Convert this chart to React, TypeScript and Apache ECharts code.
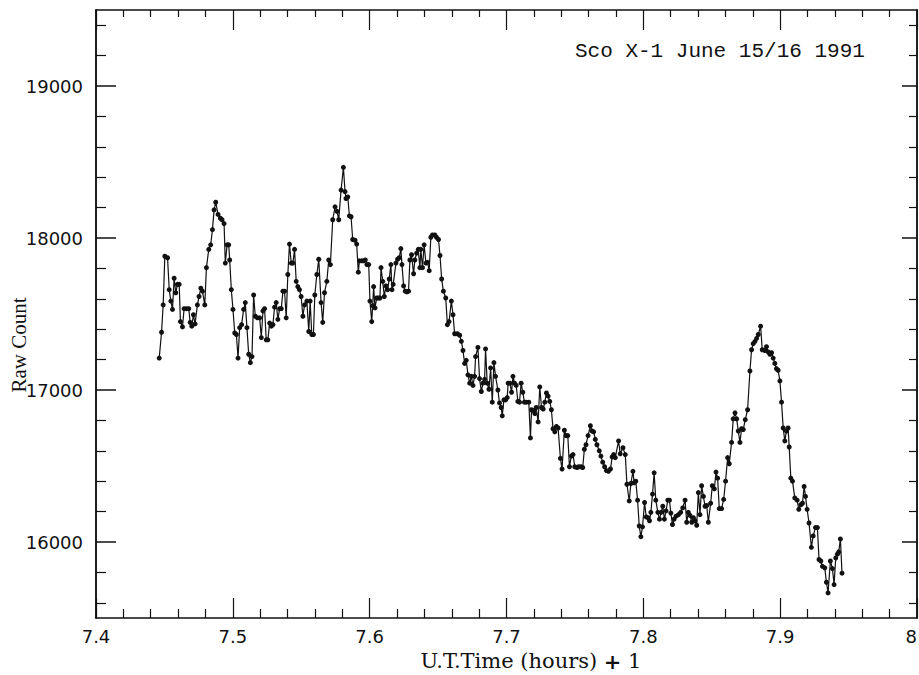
import React, { useEffect, useRef } from "react";
import * as echarts from "echarts";

const titleText = "Sco X-1 June 15/16 1991";
const yAxisTitle = "Raw Count";
const xAxisTitle = "U.T.Time (hours) {b|+} 1";

const yMajorTicks = [16000, 17000, 18000, 19000];
const yMinorTicks = [
  15600, 15800, 16200, 16400, 16600, 16800, 17200, 17400, 17600, 17800,
  18200, 18400, 18600, 18800, 19200, 19400,
];

const times = [
  7.4462, 7.4479, 7.4491, 7.4503, 7.4523, 7.4535, 7.4547, 7.4559, 7.4571, 7.4583,
  7.4595, 7.4608, 7.4617, 7.4632, 7.4644, 7.4661, 7.4678, 7.4688, 7.47, 7.4712,
  7.4724, 7.4741, 7.4753, 7.4766, 7.4778, 7.4795, 7.4807, 7.4824, 7.4838, 7.4851,
  7.4863, 7.4875, 7.4892, 7.4909, 7.4921, 7.4936, 7.4945, 7.4958, 7.497, 7.4977,
  7.4989, 7.5001, 7.5014, 7.5026, 7.5038, 7.505, 7.5064, 7.5079, 7.5091, 7.5103,
  7.5116, 7.5128, 7.514, 7.5152, 7.5164, 7.5179, 7.5196, 7.5208, 7.522, 7.5232,
  7.5244, 7.5256, 7.5269, 7.5281, 7.5293, 7.5305, 7.5317, 7.5329, 7.5342, 7.5354,
  7.5366, 7.5378, 7.539, 7.5402, 7.5414, 7.5427, 7.5439, 7.5451, 7.5463, 7.5475,
  7.5487, 7.5499, 7.5512, 7.5524, 7.5541, 7.5555, 7.5565, 7.5577, 7.5589, 7.5599,
  7.5614, 7.5628, 7.5645, 7.5657, 7.567, 7.5687, 7.5701,
  7.5713, 7.573, 7.5747, 7.5762, 7.5774, 7.5791, 7.5808, 7.582, 7.5827, 7.584,
  7.5852, 7.5864, 7.5876, 7.5893, 7.5905, 7.5917, 7.5925, 7.5942, 7.5956, 7.5968,
  7.598, 7.5993, 7.6002, 7.6015, 7.6022, 7.6029, 7.6039, 7.6051, 7.6063, 7.6075,
  7.6083, 7.6095, 7.6107, 7.6119, 7.6131, 7.6143, 7.6155, 7.6163, 7.6172, 7.6192,
  7.6204, 7.6216, 7.6228, 7.6236, 7.6248, 7.626, 7.6272, 7.6284, 7.6294, 7.6306,
  7.6321, 7.633, 7.6343, 7.6355, 7.6367, 7.6374, 7.6386, 7.6398, 7.6411, 7.6423,
  7.6435, 7.6447, 7.6459, 7.6476, 7.6488, 7.6503,
  7.6514, 7.6526, 7.6539, 7.6556, 7.6568, 7.658, 7.6597, 7.6609, 7.6621, 7.6641,
  7.6658, 7.667, 7.6682, 7.6694, 7.6706, 7.6718, 7.6731, 7.6743, 7.6755, 7.6767,
  7.6774, 7.6791, 7.6803, 7.6816, 7.6828, 7.684, 7.6847, 7.6859, 7.6872, 7.6884,
  7.6896, 7.6908, 7.692, 7.6937, 7.6949, 7.6961, 7.6969, 7.6981, 7.6993, 7.7005,
  7.7012, 7.7025, 7.7037, 7.7047, 7.7059, 7.7071, 7.7083, 7.7095, 7.7107, 7.7119,
  7.7131, 7.7144, 7.7163, 7.7175, 7.7183, 7.7195, 7.7207, 7.7217, 7.7231, 7.7243,
  7.7256, 7.7268, 7.728, 7.7292, 7.7304, 7.7316, 7.7328, 7.734, 7.7353, 7.7365,
  7.7377, 7.7394, 7.7406, 7.7423, 7.7435, 7.7448, 7.746, 7.7474, 7.7486, 7.7499,
  7.7515, 7.7528, 7.7545, 7.7557, 7.7569, 7.7581, 7.7596, 7.7613, 7.7625, 7.7637,
  7.7649, 7.7661, 7.7678, 7.769, 7.7703, 7.7717, 7.773, 7.7745, 7.776, 7.7772,
  7.7783, 7.7795,
  7.7819, 7.7831, 7.7851, 7.7868, 7.788, 7.7897, 7.7909, 7.7924, 7.7933, 7.7945,
  7.7958, 7.797, 7.7982, 7.7994, 7.8009, 7.8021, 7.8033, 7.8045, 7.8055, 7.8067,
  7.8079, 7.8091, 7.8106, 7.8118, 7.813, 7.8142, 7.8154, 7.8166, 7.8179, 7.8191,
  7.8201, 7.8213, 7.8225, 7.8239, 7.8257, 7.8273, 7.8288, 7.8305, 7.8317, 7.8329,
  7.8341, 7.8354, 7.8366, 7.8378, 7.839, 7.8402, 7.8414, 7.8426, 7.8439, 7.8451,
  7.8463, 7.8475, 7.8492, 7.8504, 7.8519, 7.8531, 7.8543, 7.8555, 7.8572, 7.8587,
  7.8601, 7.8616, 7.8628, 7.8645, 7.8657, 7.867, 7.8682, 7.8694, 7.8706, 7.8718,
  7.873, 7.8745, 7.8762, 7.8779, 7.8791, 7.8803, 7.8816, 7.8828, 7.884, 7.8857,
  7.8869, 7.8888, 7.89, 7.8913, 7.8925, 7.8937, 7.8949, 7.8961, 7.8973, 7.8985,
  7.8998, 7.901, 7.9022, 7.9034, 7.9046, 7.9058, 7.9066, 7.9078, 7.909, 7.9107,
  7.9124, 7.9136, 7.9151, 7.9163, 7.9175, 7.9185, 7.9197, 7.9211, 7.9228, 7.9241,
  7.9258, 7.9272, 7.9284, 7.9297, 7.9309, 7.9326, 7.9338, 7.935, 7.9367, 7.9382,
  7.9394, 7.9406, 7.9418, 7.9428, 7.944, 7.9452,
];

const counts = [
  17210, 17380, 17560, 17880, 17870, 17660, 17585, 17530, 17735, 17640,
  17695, 17695, 17450, 17415, 17535, 17535, 17535, 17445, 17420, 17495,
  17435, 17560, 17615, 17670, 17650, 17560, 17805, 17925, 17955, 18055,
  18185, 18235, 18155, 18130, 18120, 18095, 17835, 17955, 17955, 17855,
  17660, 17530, 17375, 17365, 17210, 17410, 17430, 17530, 17575, 17410,
  17235, 17180, 17220, 17625, 17485, 17475, 17475, 17345, 17520, 17535,
  17330, 17330, 17440, 17420, 17430, 17545, 17575, 17465, 17535, 17535,
  17650, 17650, 17475, 17760, 17960, 17835, 17835, 17925, 17715, 17680,
  17660, 17615, 17485, 17560, 17585, 17385, 17585, 17365, 17365, 17625,
  17760, 17860, 17575, 17445, 17640, 17715, 17855,
  17825, 18120, 18205, 18175, 18120, 18315, 18465, 18305, 18260, 18270,
  18145, 18140, 17990, 17985, 17960, 17775, 17850, 17850, 17850, 17855,
  17825, 17825, 17585, 17450, 17555, 17680, 17540, 17605, 17605, 17605,
  17805, 17715, 17615, 17685, 17660, 17730, 17825, 17660, 17695, 17835,
  17860, 17870, 17930, 17825, 17685, 17650, 17645, 17650, 17855, 17890,
  17765, 17855, 17900, 17925, 17805, 17925, 17805, 17955, 17835, 17840,
  17785, 18005, 18020, 18020, 18005, 17990,
  17885, 17730, 17650, 17605, 17430, 17450, 17585, 17495, 17370, 17370,
  17360, 17320, 17260, 17175, 17195, 17100, 17045, 17090, 17030, 17090,
  17220, 17280, 17075, 16990, 17045, 17070, 17270, 17045, 17005, 17145,
  16920, 17180, 17090, 17000, 16915, 16885, 16830, 16935, 16935, 16950,
  17045, 17045, 16985, 17090, 17045, 17030, 16925, 16920, 17045, 16985,
  16920, 16920, 16920, 16685, 16870, 16865, 16845, 16885, 16790, 17020,
  16885, 16875, 16920, 16980, 16960, 16925, 16870, 16745, 16725, 16760,
  16750, 16550, 16480, 16735, 16700, 16700, 16495, 16565, 16575, 16495,
  16490, 16495, 16495, 16490, 16610, 16640, 16700, 16765, 16730, 16725,
  16675, 16640, 16600, 16565, 16525, 16495, 16470, 16465, 16480, 16560,
  16575, 16555,
  16665, 16580, 16620, 16575, 16380, 16270, 16385, 16465, 16390, 16400,
  16275, 16105, 16035, 16100, 16260, 16165, 16160, 16140, 16195, 16315,
  16455, 16275, 16195, 16150, 16195, 16235, 16150, 16205, 16275, 16275,
  16190, 16115, 16150, 16170, 16180, 16195, 16225, 16275, 16130, 16195,
  16175, 16130, 16160, 16140, 16110, 16325, 16180, 16370, 16300, 16235,
  16240, 16130, 16255, 16370, 16350, 16460, 16420, 16220, 16220, 16280,
  16400, 16555, 16515, 16655, 16810, 16850, 16810, 16730, 16655, 16745,
  16740, 16805, 16870, 17125, 17265, 17305, 17320, 17340, 17365, 17420,
  17265, 17260, 17285, 17250, 17235, 17245, 17210, 17175, 17140, 17130,
  17060, 16920, 16750, 16665, 16730, 16750, 16625, 16420, 16400, 16290,
  16275, 16215, 16245, 16255, 16365, 16300, 16215, 16125, 15965, 16040,
  16095, 16095, 15885, 15875, 15840, 15830, 15735, 15665, 15875, 15825,
  15720, 15895, 15920, 15935, 16020, 15795,
];

const INK = "#111";

export default function App() {
  const ref = useRef<HTMLDivElement>(null);

  useEffect(() => {
    if (!ref.current) return;
    const chart = echarts.init(ref.current, null, { renderer: "svg" });
    const data = times.map((t, i) => [t, counts[i]]);

    const xBase = {
      type: "value",
      min: 7.4,
      max: 8.0,
      interval: 0.1,
      axisLine: { show: true, lineStyle: { color: INK, width: 1.5 } },
      splitLine: { show: false },
      minorSplitLine: { show: false },
    };
    const yBase = {
      type: "value",
      min: 15500,
      max: 19500,
      axisLine: { show: true, lineStyle: { color: INK, width: 1.5 } },
      splitLine: { show: false },
    };

    chart.setOption({
      animation: false,
      backgroundColor: "#fff",
      title: {
        text: titleText,
        left: 575,
        top: 41,
        padding: 0,
        textStyle: {
          fontFamily: "Liberation Mono",
          fontSize: 21,
          fontWeight: "normal",
          color: INK,
        },
      },
      grid: { left: 96, right: 2, top: 10, bottom: 57, outerBoundsMode: "none", containLabel: false },
      xAxis: [
        {
          ...xBase,
          position: "bottom",
          axisTick: { show: true, inside: true, length: 20, lineStyle: { color: INK, width: 1.2 } },
          minorTick: { show: true, splitNumber: 5, length: 9, lineStyle: { color: INK, width: 1.2 } },
          axisLabel: {
            show: true,
            formatter: (v: number) => String(Math.round(v * 10) / 10),
            fontFamily: "DejaVu Sans",
            fontSize: 18,
            color: INK,
            margin: 9,
            showMinLabel: true,
            showMaxLabel: true,
            alignMaxLabel: "right",
          },
        },
        {
          ...xBase,
          position: "top",
          axisTick: { show: true, inside: true, length: 20, lineStyle: { color: INK, width: 1.2 } },
          minorTick: { show: true, splitNumber: 5, length: 7, lineStyle: { color: INK, width: 1.2 } },
          axisLabel: { show: false },
        },
      ],
      yAxis: [
        {
          ...yBase,
          position: "left",
          axisTick: {
            show: true,
            inside: true,
            length: 20,
            customValues: yMajorTicks,
            lineStyle: { color: INK, width: 1.5 },
          },
          axisLabel: {
            show: true,
            customValues: yMajorTicks,
            formatter: (v: number) => String(v),
            fontFamily: "DejaVu Sans",
            fontSize: 18,
            color: INK,
            margin: 13,
          },
        },
        {
          ...yBase,
          position: "left",
          axisTick: {
            show: true,
            inside: true,
            length: 10,
            customValues: yMinorTicks,
            lineStyle: { color: INK, width: 1.2 },
          },
          axisLabel: { show: false },
        },
        {
          ...yBase,
          position: "right",
          axisTick: {
            show: true,
            inside: true,
            length: 15,
            customValues: yMajorTicks,
            lineStyle: { color: INK, width: 1.5 },
          },
          axisLabel: { show: false },
        },
        {
          ...yBase,
          position: "right",
          axisTick: {
            show: true,
            inside: true,
            length: 8,
            customValues: yMinorTicks,
            lineStyle: { color: INK, width: 1.2 },
          },
          axisLabel: { show: false },
        },
      ],
      graphic: [
        {
          type: "text",
          x: 19,
          y: 345,
          rotation: Math.PI / 2,
          style: {
            text: yAxisTitle,
            font: '21px "Liberation Serif"',
            fill: INK,
            align: "center",
            verticalAlign: "middle",
          },
        },
        {
          type: "text",
          x: 531,
          y: 661,
          style: {
            text: xAxisTitle,
            font: '21px "DejaVu Serif"',
            fill: INK,
            align: "center",
            verticalAlign: "middle",
            rich: {
              b: { font: 'bold 21px "DejaVu Serif"', fill: INK },
            },
          },
        },
      ],
      series: [
        {
          type: "line",
          xAxisIndex: 0,
          yAxisIndex: 0,
          data,
          symbol: "circle",
          symbolSize: 5,
          showSymbol: true,
          silent: true,
          lineStyle: { color: INK, width: 1.2 },
          itemStyle: { color: INK },
        },
      ],
    });

    return () => chart.dispose();
  }, []);

  return (
    <div
      ref={ref}
      style={{ position: "absolute", left: 0, top: 0, width: 919, height: 675, background: "#fff" }}
    />
  );
}
